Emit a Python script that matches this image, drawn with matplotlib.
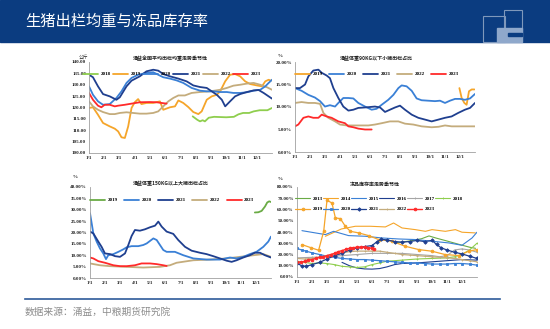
import matplotlib
matplotlib.use('Agg')
import matplotlib.pyplot as plt
from matplotlib.patches import Rectangle
from matplotlib.lines import Line2D

W, H = 550, 329
CJK = ['Noto Sans CJK SC', 'DejaVu Sans']
SERIF = 'Liberation Serif'

month_labels = ['1/1', '2/1', '3/1', '4/1', '5/1', '6/1',
                '7/1', '8/1', '9/1', '10/1', '11/1', '12/1']

# ---- 涌益全国平均出栏均重 (公斤), points are (month offset, value)
wt_2018 = [(6.80, 116.1), (7.1, 114.6), (7.28, 113.9), (7.45, 114.4), (7.6, 113.9),
           (7.85, 115.5), (8.2, 115.9), (9.0, 115.7), (9.5, 115.9), (9.8, 117.0),
           (10.1, 117.6), (10.5, 117.6), (10.8, 118.3), (11.2, 118.8), (11.7, 118.8),
           (12.0, 119.8)]
wt_2019 = [(0, 119.8), (0.26, 120.1), (0.59, 116.8), (0.92, 113.2), (1.36, 111.7),
           (1.69, 110.7), (1.91, 109.5), (2.13, 106.9), (2.35, 106.6), (2.57, 111.7),
           (2.79, 119.8), (3.0, 122.3), (3.22, 123.7), (3.44, 121.5), (3.77, 122.0),
           (4.21, 122.0), (4.65, 122.7), (4.87, 119.0), (5.31, 120.1), (5.64, 120.5),
           (5.86, 123.1), (6.18, 122.0), (6.51, 120.2), (6.84, 118.0), (7.17, 117.1),
           (7.39, 118.3), (7.72, 123.4), (8.05, 124.9), (8.38, 125.6), (8.60, 127.1),
           (8.93, 131.5), (9.25, 134.4), (9.58, 134.7), (9.91, 133.7), (10.24, 131.5),
           (10.57, 130.3), (11.01, 129.7), (11.34, 129.3), (11.56, 131.5), (11.78, 132.2),
           (11.93, 131.8)]
wt_2020 = [(0, 129.3), (0.26, 125.6), (0.59, 122.7), (0.92, 121.2), (1.36, 121.5),
           (1.80, 124.2), (2.13, 127.1), (2.46, 130.8), (2.79, 133.0), (3.22, 134.4),
           (3.77, 135.2), (4.21, 135.5), (4.54, 134.4), (4.87, 133.3), (5.31, 132.7),
           (5.75, 131.9), (6.18, 130.8), (6.73, 128.6), (7.28, 127.4), (7.72, 127.1),
           (8.16, 127.1), (8.60, 126.8), (9.04, 126.8), (9.47, 126.4), (9.91, 126.4),
           (10.35, 126.7), (10.79, 127.4), (11.23, 127.8), (11.56, 129.3), (11.78, 130.8),
           (12.0, 132.2)]
wt_2021 = [(0, 134.4), (0.26, 133.3), (0.59, 129.3), (0.92, 125.9), (1.36, 124.9),
           (1.80, 123.4), (2.02, 124.5), (2.46, 129.3), (2.79, 131.8), (3.33, 133.7),
           (3.77, 135.9), (4.21, 136.6), (4.54, 136.2), (4.87, 134.7), (5.31, 133.7),
           (5.86, 132.7), (6.40, 131.5), (6.84, 129.7), (7.28, 129.0), (7.72, 128.6),
           (8.05, 127.1), (8.38, 125.6), (8.71, 123.4), (8.93, 120.5), (9.25, 122.7),
           (9.58, 124.9), (9.91, 125.9), (10.35, 126.8), (10.79, 127.5), (11.12, 127.7),
           (11.45, 126.4), (11.78, 124.9), (12.0, 123.9)]
wt_2022 = [(0, 122.7), (0.26, 120.5), (0.59, 119.0), (0.92, 118.0), (1.36, 117.1),
           (1.69, 117.1), (2.02, 117.6), (2.46, 117.9), (2.89, 117.6), (3.33, 117.3),
           (3.77, 117.3), (4.21, 117.6), (4.54, 118.3), (4.87, 120.5), (5.20, 122.7),
           (5.53, 124.2), (5.86, 125.3), (6.29, 125.3), (6.73, 126.4), (7.28, 126.8),
           (7.94, 127.1), (8.60, 127.8), (9.04, 128.6), (9.47, 129.6), (9.91, 130.0),
           (10.35, 130.5), (10.79, 130.8), (11.23, 130.0), (11.67, 128.9), (12.0, 127.8)]
wt_2023 = [(0, 126.4), (0.26, 123.4), (0.59, 120.8), (0.81, 120.1), (1.03, 121.2),
           (1.36, 121.2), (1.69, 120.5), (1.91, 120.8), (2.35, 121.2), (2.79, 121.7),
           (3.33, 122.3), (3.99, 122.4), (4.43, 122.3), (4.76, 122.0), (5.09, 121.7)]

# ---- 涌益体重90KG以下小猪出栏占比 (%)
sm_2019 = [(10.96, 14.2), (11.11, 12.0), (11.29, 10.9), (11.44, 10.5), (11.6, 13.5),
           (11.78, 13.9), (11.96, 13.9)]
sm_2020 = [(0, 14.2), (0.44, 13.6), (0.89, 12.7), (1.33, 12.1), (1.67, 11.3), (2.0, 10.1),
           (2.33, 10.4), (2.67, 10.1), (2.89, 10.9), (3.22, 12.0), (3.56, 12.0), (3.89, 11.9),
           (4.22, 10.9), (4.67, 10.1), (5.11, 9.4), (5.44, 9.6), (5.78, 10.5), (6.22, 11.6),
           (6.56, 12.7), (6.89, 14.2), (7.11, 14.8), (7.44, 14.6), (7.78, 13.6), (8.11, 11.9),
           (8.44, 11.5), (8.89, 11.4), (9.33, 11.3), (9.67, 11.4), (10.0, 10.9), (10.33, 11.4),
           (10.67, 11.8), (11.0, 11.8), (11.33, 11.6), (11.67, 11.9), (12.0, 12.9)]
sm_2021 = [(0, 14.2), (0.33, 14.2), (0.67, 15.0), (0.89, 16.8), (1.22, 18.1), (1.56, 18.3),
           (1.78, 17.6), (2.11, 17.0), (2.33, 16.4), (2.56, 14.2), (2.89, 12.0), (3.22, 10.1),
           (3.56, 9.2), (3.89, 9.4), (4.22, 9.8), (4.67, 9.9), (5.33, 10.1), (5.67, 9.9),
           (6.0, 8.9), (6.33, 9.4), (6.67, 9.9), (7.0, 10.3), (7.33, 9.4), (7.78, 8.3),
           (8.22, 7.6), (8.67, 7.2), (9.11, 6.8), (9.56, 7.2), (10.0, 7.6), (10.44, 7.9),
           (10.89, 8.7), (11.33, 9.4), (11.67, 9.8), (12.0, 10.9)]
sm_2022 = [(0, 10.9), (0.44, 11.1), (0.89, 10.9), (1.33, 10.9), (1.67, 10.7), (1.89, 8.7),
           (2.22, 7.6), (2.67, 6.8), (3.0, 6.1), (3.44, 5.9), (4.0, 5.9), (4.89, 5.9),
           (5.33, 6.1), (5.78, 6.4), (6.33, 6.8), (6.89, 6.8), (7.33, 6.3), (7.89, 6.1),
           (8.44, 5.7), (9.11, 5.5), (9.56, 5.6), (10.0, 5.9), (10.44, 5.7), (11.33, 5.7),
           (12.0, 5.7)]
sm_2023 = [(0, 5.7), (0.22, 6.1), (0.56, 7.6), (0.89, 7.9), (1.22, 7.6), (1.56, 7.6),
           (1.78, 8.3), (2.11, 7.9), (2.44, 7.6), (2.89, 6.8), (3.33, 6.4), (3.56, 5.7),
           (3.89, 5.5), (4.22, 5.2), (4.67, 5.0), (5.11, 5.0)]

# ---- 涌益体重150KG以上大猪出栏占比 (%)
bg_2019 = [(10.93, 28.8), (11.16, 28.9), (11.38, 29.5), (11.6, 31.4), (11.75, 33.2),
           (11.88, 33.7), (12.0, 33.4)]
bg_2020 = [(0, 28.5), (0.11, 24.1), (0.22, 19.6), (0.44, 16.0), (0.66, 13.0), (0.88, 10.8),
           (1.06, 8.3), (1.21, 10.0), (1.55, 10.5), (1.88, 11.5), (2.21, 12.6), (2.43, 13.5),
           (2.76, 14.0), (3.2, 14.0), (3.53, 14.5), (3.76, 15.2), (3.98, 16.3), (4.2, 17.4),
           (4.42, 16.7), (4.64, 14.5), (4.86, 12.3), (5.08, 11.5), (5.63, 11.5), (6.19, 10.0),
           (6.85, 8.6), (7.73, 8.1), (8.62, 8.1), (9.28, 9.0), (9.72, 8.6), (10.16, 9.3),
           (10.6, 10.5), (11.04, 11.5), (11.49, 13.7), (11.82, 16.0), (12.0, 18.2)]
bg_2021 = [(0, 20.4), (0.22, 19.6), (0.55, 16.0), (0.77, 13.7), (0.99, 10.8), (1.33, 10.5),
           (1.66, 9.6), (1.99, 9.3), (2.32, 10.8), (2.54, 14.5), (2.76, 18.5), (2.98, 21.1),
           (3.31, 20.8), (3.64, 21.4), (3.98, 22.3), (4.31, 23.0), (4.53, 24.8), (4.75, 22.6),
           (5.08, 20.4), (5.52, 19.4), (5.85, 16.7), (6.3, 13.7), (6.74, 12.0), (7.29, 11.1),
           (7.73, 10.5), (8.17, 9.6), (8.62, 8.6), (9.06, 7.6), (9.39, 7.1), (9.72, 7.8),
           (10.16, 9.0), (10.6, 10.0), (10.93, 11.1), (11.27, 11.1), (11.6, 10.0), (12.0, 9.0)]
bg_2022 = [(0, 6.4), (0.66, 5.6), (1.33, 5.2), (2.43, 4.9), (3.53, 4.6), (4.64, 4.9),
           (5.3, 5.6), (5.74, 6.7), (6.85, 7.8), (7.95, 8.1), (9.06, 8.6), (9.94, 9.3),
           (10.82, 10.0), (11.49, 10.5), (12.0, 9.3)]
bg_2023 = [(0, 9.0), (0.22, 8.6), (0.55, 7.4), (0.99, 6.7), (1.55, 5.6), (1.99, 5.2),
           (2.43, 5.2), (2.98, 5.6), (3.42, 6.4), (3.98, 6.4), (4.42, 6.1), (4.86, 5.6),
           (5.08, 5.3)]

# ---- 冻品库存率 (%)
fz_2013 = [(6.5, 30.0), (7.5, 32.0), (8.3, 34.0), (8.8, 36.5), (9.3, 34.5), (10.0, 32.0),
           (10.8, 29.0), (11.5, 26.5), (11.9, 25.5)]
fz_2014 = [(1.89, 36.2), (2.96, 42.7), (3.89, 45.1), (4.89, 45.1), (5.89, 44.5), (6.44, 48.0),
           (7.0, 43.6), (7.89, 42.1), (8.56, 40.6), (9.0, 42.1), (9.89, 40.6), (10.56, 42.1),
           (11.0, 39.8), (11.89, 39.2)]
fz_2015 = [(0.33, 41.2), (1.89, 37.7), (2.44, 40.6), (3.44, 36.8), (4.56, 36.2), (5.67, 34.7),
           (6.78, 33.8), (7.89, 33.3), (9.0, 31.8), (10.11, 30.3), (11.0, 28.2), (11.67, 34.7),
           (12.0, 39.8)]
fz_2016 = [(3.0, 13.0), (3.5, 10.0), (4.0, 8.0), (4.5, 7.2), (5.0, 7.0), (5.5, 7.5),
           (6.0, 9.0), (6.5, 11.0), (7.0, 12.0), (8.0, 12.5), (9.0, 13.5), (10.0, 14.5),
           (11.0, 15.5), (12.0, 15.0)]
fz_2017 = [(0, 17.0), (1, 17.5), (2, 18.0), (3, 19.0), (4, 20.0), (5, 21.0), (6, 21.0),
           (7, 21.0), (8, 20.0), (9, 19.0), (9.5, 18.0), (10, 19.0), (10.5, 24.0),
           (11, 25.0), (11.5, 24.0), (12, 22.0)]
fz_2018 = [(0, 14.0), (0.5, 13.0), (1, 12.0), (1.5, 12.5), (2, 12.0), (2.5, 11.0), (3, 9.5),
           (3.5, 9.0), (4, 8.5), (4.5, 9.0), (5, 11.0), (5.5, 12.5), (6, 14.0), (7, 15.0),
           (8, 16.0), (9, 16.5), (10, 17.0), (10.5, 18.0), (11, 20.0), (11.5, 24.0), (12, 30.0)]
fz_2019 = [(0.33, 28.8), (0.96, 25.9), (1.44, 23.8), (1.78, 40.6), (2.0, 68.2), (2.33, 65.8),
           (2.56, 52.5), (2.89, 51.9), (3.22, 45.1), (3.56, 40.6), (4.11, 39.2), (4.78, 36.8),
           (5.44, 33.3), (6.33, 31.8), (7.22, 27.3), (8.11, 24.4), (9.0, 22.9), (9.89, 19.9),
           (10.78, 19.1), (11.44, 22.9), (12.0, 24.4)]
fz_2020 = [(0, 25.5), (0.3, 24.0), (0.6, 23.0), (1, 21.5), (1.5, 20.0), (2, 18.5), (2.5, 17.5),
           (3, 16.5), (3.5, 16.0), (4, 15.5), (4.5, 15.5), (5, 15.0), (5.5, 14.5), (6, 14.0),
           (6.5, 13.5), (7, 13.0), (7.5, 12.5), (8, 12.5), (8.5, 12.0), (9, 11.5), (9.5, 11.5),
           (10, 11.5), (10.5, 12.0), (11, 12.0), (11.5, 11.5), (12, 10.5)]
fz_2021 = [(0, 12.5), (0.3, 10.0), (0.6, 9.5), (1, 11.0), (1.5, 13.0), (2, 16.0), (2.5, 19.0),
           (3, 21.0), (3.5, 24.0), (4, 26.0), (4.5, 27.0), (5, 28.0), (5.3, 31.0), (5.6, 33.5),
           (6, 33.0), (6.5, 31.5), (7, 31.0), (7.5, 31.5), (8, 32.5), (8.5, 31.5), (9, 32.5),
           (9.3, 29.0), (9.6, 26.0), (10, 24.0), (10.5, 22.0), (11, 20.5), (11.5, 18.5),
           (12, 16.5)]
fz_2022 = [(0, 16.5), (0.5, 16.0), (1, 16.5), (1.5, 17.5), (2, 19.0), (2.5, 20.5), (3, 21.5),
           (3.5, 22.5), (4, 23.0), (4.5, 23.0), (5, 23.0), (5.5, 23.0), (6, 22.0), (6.5, 21.0),
           (7, 20.0), (7.5, 19.5), (8, 19.0), (8.5, 18.5), (9, 18.0), (9.5, 17.5), (10, 17.0),
           (10.5, 16.5), (11, 15.5), (11.5, 14.5), (12, 13.5)]
fz_2023 = [(0, 13.5), (0.25, 13.0), (0.5, 14.0), (0.75, 15.0), (1, 15.5), (1.25, 16.5),
           (1.5, 17.5), (1.75, 18.0), (2, 19.0), (2.25, 20.0), (2.5, 21.0), (2.75, 22.5),
           (3, 23.5), (3.25, 24.5), (3.5, 25.5), (3.75, 26.0), (4, 26.5), (4.25, 26.5),
           (4.5, 26.5), (4.75, 26.0), (5, 25.5), (5.15, 25.0)]

GREEN = '#8fce4e'
DGREEN = '#6aab45'
ORANGE = '#f5a52a'
BLUE = '#3a80d6'
NAVY = '#1f3f8f'
TAN = '#c4ac7c'
RED = '#ff2a2a'
GRAY = '#a5a5a5'

fig = plt.figure(figsize=(W / 100, H / 100), dpi=100)


def fx(x):
    return x / W


def fy(y):
    return 1 - y / H


def panel(x0, yt, x1, yb, ylim, step, pct):
    ax = fig.add_axes([fx(x0), fy(yb), (x1 - x0) / W, (yb - yt) / H])
    ax.set_xlim(0, 12)
    ax.set_ylim(*ylim)
    ax.set_xticks(range(12))
    ax.set_xticklabels(month_labels)
    yt_vals = list(range(ylim[0], ylim[1] + 1, step))
    ax.set_yticks(yt_vals)
    if pct:
        ax.set_yticklabels(['%.2f%%' % v for v in yt_vals])
    else:
        ax.set_yticklabels(['%.2f' % v for v in yt_vals])
    for s in ['top', 'right']:
        ax.spines[s].set_visible(False)
    for s in ['left', 'bottom']:
        ax.spines[s].set_color('#a0a0a0')
        ax.spines[s].set_linewidth(0.6)
    ax.tick_params(length=0, pad=2.2, labelsize=3.6, labelcolor='#222222')
    for lab in ax.get_xticklabels() + ax.get_yticklabels():
        lab.set_family(SERIF)
        lab.set_fontweight('bold')
    return ax


def draw(ax, pts, color, label, lw=1.3, marker=None, ms=2.0):
    xs, ys = zip(*pts)
    ax.plot(xs, ys, color=color, lw=lw, marker=marker, ms=ms, mew=0.6, label=label,
            solid_capstyle='round')


def legend(ax, order, ncol, x0, x1, yc, hgt, spacing=0.3):
    h, l = ax.get_legend_handles_labels()
    idx = [l.index(o) for o in order]
    ax.legend([h[i] for i in idx], [l[i] for i in idx], loc='center',
              bbox_to_anchor=(fx(x0), fy(yc + hgt / 2), (x1 - x0) / W, hgt / H),
              bbox_transform=fig.transFigure, mode='expand', ncol=ncol, frameon=False,
              prop={'family': SERIF, 'weight': 'bold', 'size': 3.6},
              handlelength=3.0, handletextpad=0.5, borderaxespad=0, borderpad=0,
              labelspacing=spacing, columnspacing=0.5)


# header band
fig.patches.append(Rectangle((0, fy(42)), 1, 42 / H, transform=fig.transFigure,
                             color='#0b3c80', zorder=0))
fig.text(fx(25), fy(21), '生猪出栏均重与冻品库存率', color='white', fontsize=11,
         family=CJK, va='center', ha='left')
# logo
fig.patches.append(Rectangle((fx(483), fy(42)), 22 / W, 26 / H, transform=fig.transFigure,
                             fill=False, ec='#7f98bb', lw=0.8))
fig.patches.append(Rectangle((fx(504), fy(38)), 18 / W, 28 / H, transform=fig.transFigure,
                             fill=False, ec='#7f98bb', lw=0.8))
fig.patches.append(Rectangle((fx(497), fy(42)), 25 / W, 14 / H, transform=fig.transFigure,
                             color='#8fa8cb'))
fig.patches.append(Rectangle((fx(508), fy(36)), 14 / W, 3 / H, transform=fig.transFigure,
                             color='#0b3c80'))

# top-left: weight
ax1 = panel(89, 62, 272, 153, (100, 140), 5, False)
draw(ax1, wt_2018, GREEN, '2018')
draw(ax1, wt_2019, ORANGE, '2019')
draw(ax1, wt_2022, TAN, '2022')
draw(ax1, wt_2020, BLUE, '2020')
draw(ax1, wt_2021, NAVY, '2021')
draw(ax1, wt_2023, RED, '2023')
legend(ax1, ['2018', '2019', '2020', '2021', '2022', '2023'], 6, 83, 261, 74, 6)
fig.text(fx(170), fy(59), '涌益全国平均出栏均重走势季节性', family=CJK, fontsize=3.6,
         fontweight='bold', ha='center', va='center', color='#222222')
fig.text(fx(84), fy(57), '公斤', family=CJK, fontsize=3.4, ha='center', va='center',
         color='#222222')

# top-right: small pigs
ax2 = panel(295, 62, 475, 152, (0, 20), 5, True)
draw(ax2, sm_2019, ORANGE, '2019')
draw(ax2, sm_2022, TAN, '2022')
draw(ax2, sm_2020, BLUE, '2020')
draw(ax2, sm_2021, NAVY, '2021')
draw(ax2, sm_2023, RED, '2023')
legend(ax2, ['2019', '2020', '2021', '2022', '2023'], 5, 295, 459, 74, 6)
fig.text(fx(376), fy(59), '涌益体重90KG以下小猪出栏占比', family=CJK, fontsize=3.6,
         fontweight='bold', ha='center', va='center', color='#222222')
fig.text(fx(280), fy(56), '%', family=SERIF, fontsize=3.6, fontweight='bold',
         ha='center', va='center', color='#222222')

# bottom-left: big pigs
ax3 = panel(90, 187, 271, 278, (0, 40), 5, True)
draw(ax3, bg_2019, DGREEN, '2019')
draw(ax3, bg_2022, TAN, '2022')
draw(ax3, bg_2020, BLUE, '2020')
draw(ax3, bg_2021, NAVY, '2021')
draw(ax3, bg_2023, RED, '2023')
legend(ax3, ['2019', '2020', '2021', '2022', '2023'], 5, 90, 254, 200, 6)
fig.text(fx(171), fy(184), '涌益体重150KG以上大猪出栏占比', family=CJK, fontsize=3.6,
         fontweight='bold', ha='center', va='center', color='#222222')
fig.text(fx(75), fy(177), '%', family=SERIF, fontsize=3.6, fontweight='bold',
         ha='center', va='center', color='#222222')

# bottom-right: frozen stock
ax4 = panel(297, 187, 477, 277, (0, 80), 10, True)
draw(ax4, fz_2013, DGREEN, '2013', lw=0.8)
draw(ax4, fz_2014, ORANGE, '2014', lw=0.8)
draw(ax4, fz_2015, BLUE, '2015', lw=0.8)
draw(ax4, fz_2016, NAVY, '2016', lw=0.8)
draw(ax4, fz_2017, GRAY, '2017', lw=0.8, marker='+')
draw(ax4, fz_2018, GREEN, '2018', lw=0.8, marker='+')
draw(ax4, fz_2019, ORANGE, '2019', lw=0.9, marker='o')
draw(ax4, fz_2020, BLUE, '2020', lw=0.9, marker='s', ms=1.6)
draw(ax4, fz_2022, TAN, '2022', lw=0.9, marker='+')
draw(ax4, fz_2021, NAVY, '2021', lw=0.9, marker='D', ms=1.8)
draw(ax4, fz_2023, RED, '2023', lw=1.0, marker='o')
legend(ax4, ['2013', '2019', '2014', '2020', '2015', '2021', '2016', '2022', '2017', '2023',
             '2018'], 6, 295, 463, 204, 14, spacing=1.2)
fig.text(fx(375), fy(184), '冻品库存率走势季节性', family=CJK, fontsize=3.6,
         fontweight='bold', ha='center', va='center', color='#222222')
fig.text(fx(280), fy(179), '%', family=SERIF, fontsize=3.6, fontweight='bold',
         ha='center', va='center', color='#222222')

# footer
fig.add_artist(Line2D([fx(25), fx(500)], [fy(299), fy(299)], transform=fig.transFigure,
                      color='#2d5a9a', lw=1.2))
fig.text(fx(25), fy(312), '数据来源：涌益，中粮期货研究院', family=CJK, fontsize=7,
         color='#8c8c8c', ha='left', va='center')

fig.savefig('out.png', dpi=100)
